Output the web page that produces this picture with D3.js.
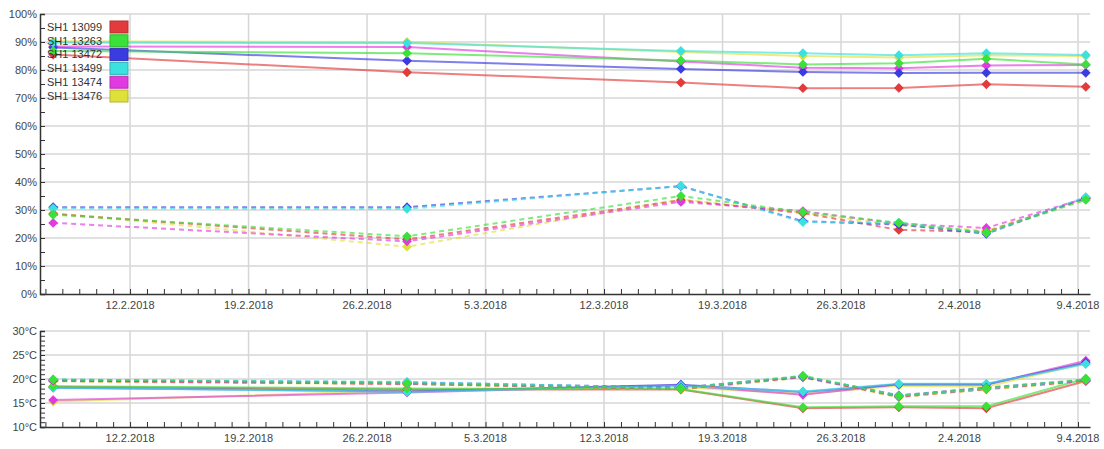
<!DOCTYPE html>
<html>
<head>
<meta charset="utf-8">
<title>SH1 sensors</title>
<script src="https://cdn.jsdelivr.net/npm/d3@7"></script>
<style>
  body { margin: 0; background: #fff; }
  text { font-family: "Liberation Sans", Arial, sans-serif; font-size: 11px; fill: #444; }
</style>
</head>
<body>
<svg width="1104" height="449" id="mainsvg"></svg>
<script>
// sensors and their colours
const sensors = ['SH1 13099', 'SH1 13263', 'SH1 13472', 'SH1 13499', 'SH1 13474', 'SH1 13476'];
const colors = ['#e23b3b', '#3be03b', '#3b3be2', '#3be0e0', '#e03be0', '#e0e03b'];

// measurement times
const times = ['2018-02-07T11:00', '2018-02-28T08:40', '2018-03-16T13:00', '2018-03-23T18:00',
               '2018-03-29T10:00', '2018-04-03T14:00', '2018-04-09T11:00'];

// upper panel, % (one row per sensor, same order as sensors)
const humSolid = [
  [85.5, 79.2, 75.5, 73.5, 73.6, 74.9, 74.0],
  [86.8, 86.0, 83.4, 82.0, 82.4, 84.0, 82.0],
  [88.0, 83.3, 80.4, 79.3, 78.9, 79.0, 79.0],
  [89.8, 89.6, 86.8, 86.0, 85.3, 86.0, 85.4],
  [88.4, 88.2, 83.0, 80.8, 80.6, 81.6, 81.8],
  [90.3, 90.0, 86.4, 85.0, 84.5, 85.3, 85.0]
];
const humDashed = [
  [28.6, 19.5, 33.5, 28.9, 22.9, 22.2, 34.2],
  [28.3, 20.6, 35.0, 29.3, 25.4, 22.0, 33.6],
  [31.0, 31.0, 38.5, 26.0, 24.8, 21.5, 34.4],
  [30.6, 30.4, 38.6, 25.7, 25.5, 21.8, 34.6],
  [25.4, 18.8, 32.9, 29.6, 25.1, 23.6, 34.2],
  [28.9, 16.9, 33.8, 29.0, 24.6, 22.6, 33.8]
];

// lower panel, °C
const tempSolid = [
  [18.4, 17.8, 17.8, 13.9, 14.1, 13.9, 19.6],
  [18.5, 18.0, 17.9, 14.1, 14.3, 14.3, 20.1],
  [18.2, 17.4, 18.8, 17.3, 18.9, 18.9, 23.4],
  [18.2, 17.3, 18.6, 17.4, 19.0, 19.0, 23.1],
  [15.6, 17.2, 18.7, 16.7, 18.9, 18.8, 23.8],
  [15.3, 17.6, 18.3, 16.9, 18.6, 18.4, 23.3]
];
const tempDashed = [
  [19.6, 19.0, 17.9, 20.4, 16.3, 17.9, 19.6],
  [19.9, 19.1, 18.0, 20.7, 16.5, 18.1, 19.9],
  [19.8, 19.3, 18.2, 20.5, 16.6, 18.2, 19.8],
  [19.9, 19.4, 18.1, 20.6, 16.5, 18.0, 19.8],
  [19.7, 19.0, 18.0, 20.5, 16.4, 18.0, 19.7],
  [19.5, 18.9, 17.8, 20.3, 16.2, 17.8, 19.5]
];

const weekTicks = ['2018-02-12', '2018-02-19', '2018-02-26', '2018-03-05', '2018-03-12',
                   '2018-03-19', '2018-03-26', '2018-04-02', '2018-04-09'];

const parse = d3.timeParse('%Y-%m-%dT%H:%M');
const parseDay = d3.timeParse('%Y-%m-%d');
const dates = times.map(parse);
const weekDates = weekTicks.map(parseDay);

const svg = d3.select('svg');
const x = d3.scaleTime()
  .domain([parse('2018-02-06T16:20'), parse('2018-04-09T17:00')])
  .range([40, 1090]);

const yHum = d3.scaleLinear().domain([0, 100]).range([294, 14]);
const yTemp = d3.scaleLinear().domain([10, 30]).range([427, 331]);

// drawing order so green and cyan markers end up on top
const drawOrder = [5, 0, 4, 2, 3, 1];

function panel(y, yTickMajor, yTickMinor, fmt, solid, dashed) {
  const g = svg.append('g');
  const x0 = x.range()[0], x1 = x.range()[1];
  const y0 = y.range()[0], y1 = y.range()[1];

  // grid
  g.selectAll('.hgrid').data(yTickMajor.slice(1)).join('line')
    .attr('x1', x0).attr('x2', x1)
    .attr('y1', d => y(d)).attr('y2', d => y(d))
    .attr('stroke', '#d6d6d6').attr('stroke-width', 1.5);
  g.selectAll('.vgrid').data(weekDates).join('line')
    .attr('x1', d => x(d)).attr('x2', d => x(d))
    .attr('y1', y0).attr('y2', y1)
    .attr('stroke', '#d6d6d6').attr('stroke-width', 1.5);

  // y axis
  const yAxis = g.append('g').attr('transform', `translate(${x0},0)`)
    .call(d3.axisRight(y).tickValues(yTickMinor).tickSize(5).tickFormat(''));
  yAxis.select('.domain').attr('stroke', '#333').attr('stroke-width', 1.5);
  yAxis.selectAll('.tick line').attr('stroke', '#333');
  g.selectAll('.ylab').data(yTickMajor).join('text')
    .attr('x', x0 - 3).attr('y', d => y(d)).attr('dy', '0.35em')
    .attr('text-anchor', 'end').text(fmt);

  // x axis
  const xAxis = g.append('g').attr('transform', `translate(0,${y0})`)
    .call(d3.axisTop(x).ticks(d3.timeDay.every(1)).tickSize(5).tickFormat('').tickSizeOuter(0));
  xAxis.select('.domain').attr('stroke', '#333').attr('stroke-width', 1.5);
  xAxis.selectAll('.tick line').attr('stroke', '#333');
  g.selectAll('.xlab').data(weekDates).join('text')
    .attr('x', d => x(d)).attr('y', y0 + 15)
    .attr('text-anchor', 'middle').text(d3.timeFormat('%-d.%-m.%Y'));

  const line = d3.line().x((d, i) => x(dates[i])).y(d => y(d));
  const marker = d3.symbol(d3.symbolSquare, 48);

  [[solid, null], [dashed, '5,4']].forEach(([set, dash]) => {
    drawOrder.forEach(s => {
      g.append('path')
        .attr('d', line(set[s]))
        .attr('fill', 'none')
        .attr('stroke', colors[s])
        .attr('stroke-opacity', 0.65)
        .attr('stroke-width', 2)
        .attr('stroke-dasharray', dash);
    });
  });
  [solid, dashed].forEach(set => {
    drawOrder.forEach(s => {
      g.selectAll(null).data(set[s]).join('path')
        .attr('d', marker)
        .attr('transform', (d, i) => `translate(${x(dates[i])},${y(d)}) rotate(45)`)
        .attr('fill', colors[s]);
    });
  });
}

panel(yHum, d3.range(0, 101, 10), d3.range(0, 101, 5), d => d + '%', humSolid, humDashed);
panel(yTemp, d3.range(10, 31, 5), d3.range(10, 31, 1), d => d + '°C', tempSolid, tempDashed);

// legend
const legend = svg.append('g').selectAll('g').data(sensors).join('g')
  .attr('transform', (d, i) => `translate(47,${27 + i * 13.8})`);
legend.append('text').attr('x', 0).attr('y', 0).attr('dy', '0.35em')
  .style('fill', '#333').text(d => d);
legend.append('rect').attr('x', 63).attr('y', -6).attr('width', 18).attr('height', 12)
  .attr('fill', (d, i) => colors[i])
  .attr('stroke', (d, i) => d3.color(colors[i]).darker(0.6)).attr('stroke-width', 1);
</script>
</body>
</html>
